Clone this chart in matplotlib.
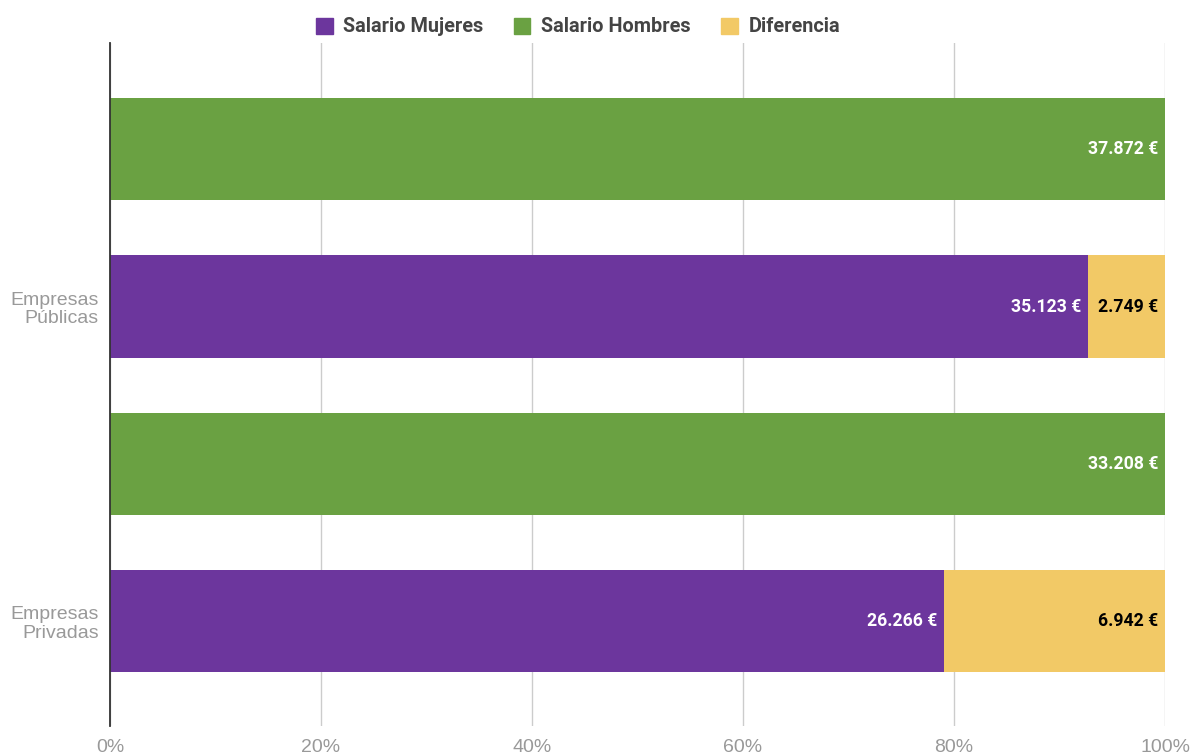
import matplotlib.pyplot as plt
from matplotlib.patches import Patch

plt.rcParams['font.family'] = ['Roboto', 'DejaVu Sans']

# datos (euros)
grupos = ['Empresas\nPúblicas', 'Empresas\nPrivadas']
salario_hombres = [37872, 33208]
salario_mujeres = [35123, 26266]
diferencia = [2749, 6942]
ticks_x = [0, 20, 40, 60, 80, 100]

c_muj = '#6c369d'
c_hom = '#6aa142'
c_dif = '#f2c966'


def fmt(v):
    return f'{v:,}'.replace(',', '.') + ' €'


fig = plt.figure(figsize=(11.99, 7.54), dpi=100)
ax = fig.add_axes([110 / 1199, 1 - 726 / 754, 1055 / 1199, 683 / 754])

pos = 0
ticks = []
for i, g in enumerate(grupos):
    # barra hombres (100%)
    ax.barh(pos, 100, height=0.65, color=c_hom)
    ax.text(100 - 0.65, pos, fmt(salario_hombres[i]), color='white', fontsize=12.7,
            fontweight='bold', ha='right', va='center')
    pos += 1
    # barra mujeres + diferencia
    tot = salario_mujeres[i] + diferencia[i]
    pm = salario_mujeres[i] / tot * 100
    pd_ = diferencia[i] / tot * 100
    ax.barh(pos, pm, height=0.65, color=c_muj)
    ax.barh(pos, pd_, left=pm, height=0.65, color=c_dif)
    ax.text(pm - 0.65, pos, fmt(salario_mujeres[i]), color='white', fontsize=12.7,
            fontweight='bold', ha='right', va='center')
    ax.text(100 - 0.65, pos, fmt(diferencia[i]), color='black', fontsize=12.7,
            fontweight='bold', ha='right', va='center')
    ticks.append(pos)
    pos += 1

ax.set_ylim(3.665, -0.675)
ax.set_xlim(0, 100)
ax.set_yticks(ticks)
ax.set_yticklabels(grupos, fontsize=14, color='#999999', linespacing=1.1,
                   family=['Liberation Sans', 'DejaVu Sans'])
ax.set_xticks(ticks_x)
ax.set_xticklabels([f'{t}%' for t in ticks_x], fontsize=14, color='#999999',
                   family=['Liberation Sans', 'DejaVu Sans'])
ax.tick_params(length=0, pad=8)
ax.tick_params(axis='x', pad=9)
ax.grid(axis='x', color='#cccccc', linewidth=1)
ax.set_axisbelow(True)
for s in ['top', 'right', 'bottom']:
    ax.spines[s].set_visible(False)
ax.spines['left'].set_color('#333333')
ax.spines['left'].set_linewidth(1.3)
ax.spines['left'].set_zorder(5)

handles = [Patch(color=c_muj, label='Salario Mujeres'),
           Patch(color=c_hom, label='Salario Hombres'),
           Patch(color=c_dif, label='Diferencia')]
leg = fig.legend(handles=handles, loc='center', bbox_to_anchor=(0.482, 1 - 27 / 754),
                 ncol=3, frameon=False, handlelength=0.85, handleheight=0.85,
                 handletextpad=0.55, columnspacing=1.5,
                 prop={'size': 14.3, 'weight': 'bold'})
for t in leg.get_texts():
    t.set_color('#444444')

fig.savefig('out.png', dpi=100)
